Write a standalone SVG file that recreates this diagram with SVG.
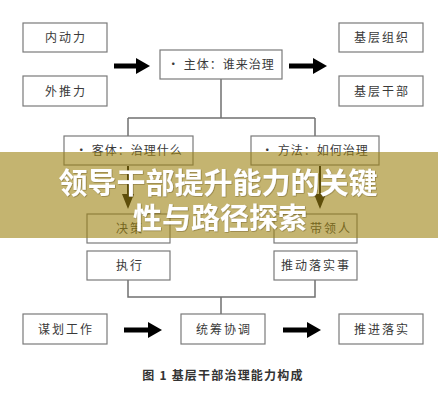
<svg xmlns="http://www.w3.org/2000/svg" width="438" height="400" viewBox="0 0 438 400">
<style>
.box{fill:#fff;stroke:#7a7a7a;stroke-width:1.2}
.t{font-family:"Noto Sans CJK SC","Noto Sans",sans-serif;font-size:12px;fill:#3a3a3a;letter-spacing:2px;text-anchor:middle}
.b{letter-spacing:1px}
.ln{fill:none;stroke:#707070;stroke-width:1.5}
.cap{font-family:"Noto Sans CJK SC","Liberation Sans",sans-serif;font-size:12px;font-weight:bold;fill:#333;text-anchor:middle;letter-spacing:1.2px}
.ban{font-family:"Noto Sans CJK SC","Noto Sans",sans-serif;font-size:29px;font-weight:bold;fill:#fff;text-anchor:middle}
</style>
<defs>
<filter id="sh" x="-5%" y="-20%" width="110%" height="140%"><feDropShadow dx="0.6" dy="0.6" stdDeviation="0.6" flood-color="#5a4a10" flood-opacity="0.6"/></filter>
</defs>
<rect width="438" height="400" fill="#fff"/>
<g id="connectors">
<path class="ln" d="M221 79V118M128 118H315M128 118V136M315 118V136"/>
<path class="ln" d="M128 280V297H315V280M221 297V314"/>
<path d="M114 63.5H136V58L150 66L136 74V68.5H114Z" fill="#000"/>
<path d="M289 63.5H313V58L327 66L313 74V68.5H289Z" fill="#000"/>
<path d="M124 327.5H148V322L162 330L148 338V332.5H124Z" fill="#000"/>
<path d="M283 327.5H307V322L321 330L307 338V332.5H283Z" fill="#000"/>
<path d="M128 166V196" stroke="#000" stroke-width="2"/>
<path d="M122 194H134L128 209Z" fill="#000"/>
<path d="M320 166V196" stroke="#000" stroke-width="2"/>
<path d="M314 194H326L320 209Z" fill="#000"/>
</g>
<g id="n-neidongli"><rect class="box" x="23" y="23" width="84" height="29"/><text class="t" x="66" y="42">内动力</text></g>
<g id="n-waituili"><rect class="box" x="23" y="76" width="84" height="30"/><text class="t" x="66" y="96">外推力</text></g>
<g id="n-zhuti"><rect class="box" x="160" y="50" width="122" height="29"/><text class="t b" x="221" y="69">• 主体：谁来治理</text></g>
<g id="n-zuzhi"><rect class="box" x="339" y="23" width="84" height="29"/><text class="t" x="382" y="42">基层组织</text></g>
<g id="n-ganbu"><rect class="box" x="339" y="76" width="84" height="30"/><text class="t" x="382" y="96">基层干部</text></g>
<g id="n-keti"><rect class="box" x="64" y="136" width="129" height="29"/><text class="t b" x="129" y="155">• 客体：治理什么</text></g>
<g id="n-fangfa"><rect class="box" x="251" y="136" width="128" height="29"/><text class="t b" x="315" y="155">• 方法：如何治理</text></g>
<g id="n-juece"><rect class="box" x="87" y="214" width="83" height="29"/><text class="t" x="130" y="233">决策</text></g>
<g id="n-dailing"><rect class="box" x="274" y="214" width="83" height="29"/><text class="t" x="310" y="233" style="text-anchor:start">带领人</text></g>
<g id="n-zhixing"><rect class="box" x="87" y="251" width="83" height="29"/><text class="t" x="130" y="270">执行</text></g>
<g id="n-tuidong"><rect class="box" x="274" y="251" width="83" height="29"/><text class="t" x="316" y="270">推动落实事</text></g>
<g id="n-mouhua"><rect class="box" x="23" y="314" width="84" height="30"/><text class="t" x="66" y="334">谋划工作</text></g>
<g id="n-tongchou"><rect class="box" x="181" y="314" width="84" height="30"/><text class="t" x="224" y="334">统筹协调</text></g>
<g id="n-tuijin"><rect class="box" x="339" y="314" width="84" height="30"/><text class="t" x="382" y="334">推进落实</text></g>
<text class="cap" x="223" y="380">图 1  基层干部治理能力构成</text>
<g id="banner">
<rect x="0" y="152" width="438" height="86" fill="rgb(157,130,17)" fill-opacity="0.6"/>
<text class="ban" x="218" y="194" filter="url(#sh)">领导干部提升能力的关键</text>
<text class="ban" x="220" y="229" filter="url(#sh)">性与路径探索</text>
</g>
</svg>
